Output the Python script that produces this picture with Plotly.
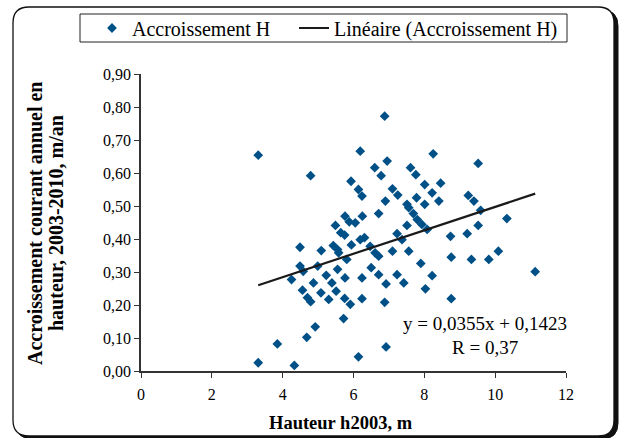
import plotly.graph_objects as go

# Data (Hauteur h2003 in m, Accroissement H in m/an)
hauteur = [3.31, 3.31, 3.85, 4.33, 4.49, 4.49, 4.58, 4.25, 4.56, 4.70,
           4.79, 4.92, 4.68, 4.79, 4.87, 4.99, 5.08, 5.09, 5.23, 5.30,
           5.39, 5.51, 5.43, 5.55, 5.55, 5.76, 5.49, 5.64, 5.75, 5.76,
           5.88, 5.81, 5.75, 5.91, 5.72, 5.94, 5.93, 6.14, 6.24, 6.19,
           6.19, 6.05, 6.14, 6.24, 6.24, 6.25, 6.31, 6.47, 6.61, 6.50,
           6.71, 6.71, 6.71, 6.60, 6.78, 6.88, 6.95, 6.90, 6.92, 6.88,
           6.92, 7.10, 7.25, 7.10, 7.23, 7.37, 7.56, 7.23, 7.42, 7.51,
           7.51, 7.56, 7.69, 7.80, 7.93, 8.08, 7.61, 7.76, 7.78, 8.01,
           8.01, 8.22, 8.41, 8.46, 8.25, 7.90, 8.22, 8.03, 8.74, 8.76,
           8.76, 9.24, 9.40, 9.59, 9.52, 9.52, 9.21, 10.33, 10.09, 9.82,
           9.33, 11.13, 5.58]
accroissement = [0.654, 0.025, 0.082, 0.017, 0.375, 0.318, 0.302, 0.277, 0.245, 0.222,
                 0.210, 0.134, 0.102, 0.592, 0.267, 0.318, 0.237, 0.365, 0.290, 0.217,
                 0.267, 0.242, 0.380, 0.368, 0.308, 0.282, 0.441, 0.419, 0.412, 0.469,
                 0.452, 0.338, 0.220, 0.202, 0.159, 0.382, 0.575, 0.550, 0.530, 0.666,
                 0.398, 0.449, 0.043, 0.282, 0.219, 0.469, 0.404, 0.378, 0.358, 0.313,
                 0.292, 0.348, 0.477, 0.616, 0.592, 0.772, 0.636, 0.515, 0.264, 0.208,
                 0.073, 0.552, 0.533, 0.363, 0.416, 0.398, 0.363, 0.292, 0.267, 0.441,
                 0.505, 0.495, 0.477, 0.459, 0.444, 0.429, 0.616, 0.595, 0.525, 0.565,
                 0.505, 0.540, 0.515, 0.569, 0.658, 0.326, 0.289, 0.249, 0.408, 0.345,
                 0.219, 0.532, 0.515, 0.487, 0.629, 0.441, 0.416, 0.462, 0.363, 0.338,
                 0.338, 0.301, 0.358]

# Linear trend as displayed on the chart
slope = 0.0355
intercept = 0.1423
r_value = 0.37

x_ticks = [0, 2, 4, 6, 8, 10, 12]
y_ticks = [0.0, 0.1, 0.2, 0.3, 0.4, 0.5, 0.6, 0.7, 0.8, 0.9]

series_name = "Accroissement H"
trend_name = "Linéaire (Accroissement H)"
x_title = "Hauteur h2003, m"
y_title_lines = ["Accroissement courant annuel en", "hauteur, 2003-2010, m/an"]

FONT = "Liberation Serif, Times New Roman, serif"
W, H = 622, 438
L, R, T, B = 141, 56, 74, 67
PW, PH = W - L - R, H - T - B


def px_x(p):
    return (p - L) / PW


def px_y(p):
    return (H - B - p) / PH


def fr(v):
    return str(v).replace(".", ",")


x_min, x_max = min(hauteur), max(hauteur)
trend_x = [x_min, x_max]
trend_y = [slope * v + intercept for v in trend_x]

fig = go.Figure()
fig.add_trace(go.Scatter(
    x=hauteur, y=accroissement, mode="markers", name=series_name, legend="legend",
    marker=dict(symbol="diamond", size=7.5, color="#005088", line=dict(width=0)),
))
fig.add_trace(go.Scatter(
    x=trend_x, y=trend_y, mode="lines", name=trend_name, legend="legend2",
    line=dict(color="#1a1a1a", width=2.2),
))


def rounded_rect(x0, y0, x1, y1, r):
    return (f"M {px_x(x0 + r)},{px_y(y0)} L {px_x(x1 - r)},{px_y(y0)} "
            f"Q {px_x(x1)},{px_y(y0)} {px_x(x1)},{px_y(y0 + r)} "
            f"L {px_x(x1)},{px_y(y1 - r)} "
            f"Q {px_x(x1)},{px_y(y1)} {px_x(x1 - r)},{px_y(y1)} "
            f"L {px_x(x0 + r)},{px_y(y1)} "
            f"Q {px_x(x0)},{px_y(y1)} {px_x(x0)},{px_y(y1 - r)} "
            f"L {px_x(x0)},{px_y(y0 + r)} "
            f"Q {px_x(x0)},{px_y(y0)} {px_x(x0 + r)},{px_y(y0)} Z")


shapes = [
    dict(type="path", xref="paper", yref="paper", layer="below",
         path=rounded_rect(16, 10, 618, 439, 16),
         fillcolor="#111", line=dict(color="#111", width=1)),
    dict(type="path", xref="paper", yref="paper", layer="below",
         path=rounded_rect(13, 7, 614, 436, 16),
         fillcolor="white", line=dict(color="#111", width=1.3)),
    # legend frame
    dict(type="rect", xref="paper", yref="paper", layer="below",
         x0=px_x(80), x1=px_x(567), y0=px_y(14), y1=px_y(42),
         fillcolor="white", line=dict(color="#222", width=1)),
]

annotations = [
    dict(xref="paper", yref="paper", x=px_x(35), y=px_y(223), text=f"<b>{y_title_lines[0]}</b>",
         textangle=-90, showarrow=False, xanchor="center", yanchor="middle",
         font=dict(family=FONT, size=20, color="black")),
    dict(xref="paper", yref="paper", x=px_x(56), y=px_y(223), text=f"<b>{y_title_lines[1]}</b>",
         textangle=-90, showarrow=False, xanchor="center", yanchor="middle",
         font=dict(family=FONT, size=20, color="black")),
    dict(xref="paper", yref="paper", x=px_x(341), y=px_y(423), text=f"<b>{x_title}</b>",
         showarrow=False, xanchor="center", yanchor="middle",
         font=dict(family=FONT, size=18.5, color="black")),
    dict(xref="paper", yref="paper", x=px_x(485), y=px_y(323),
         text=f"y = {fr(slope)}x + {fr(intercept)}",
         showarrow=False, xanchor="center", yanchor="middle",
         font=dict(family=FONT, size=19, color="black")),
    dict(xref="paper", yref="paper", x=px_x(485), y=px_y(347),
         text=f"R = {fr(r_value)}",
         showarrow=False, xanchor="center", yanchor="middle",
         font=dict(family=FONT, size=19, color="black")),
]

legend_common = dict(orientation="h", xanchor="left", yanchor="middle",
                     borderwidth=0, bgcolor="rgba(0,0,0,0)",
                     font=dict(family=FONT, size=20, color="black"),
                     itemwidth=30)

fig.update_layout(
    width=W, height=H,
    margin=dict(l=L, r=R, t=T, b=B, autoexpand=False),
    paper_bgcolor="white", plot_bgcolor="rgba(0,0,0,0)",
    separators=", ",
    font=dict(family=FONT, size=16, color="black"),
    shapes=shapes, annotations=annotations,
    showlegend=True,
    legend=dict(x=px_x(92), y=px_y(28), **legend_common),
    legend2=dict(x=px_x(294), y=px_y(28), **legend_common),
)
fig.update_xaxes(range=[0, 12], tickvals=x_ticks, tickformat="d",
                 showgrid=False, zeroline=False, showline=True, linecolor="#333", linewidth=1.5,
                 ticks="outside", ticklen=5, tickcolor="#333", tickwidth=1.2,
                 ticklabelstandoff=3,
                 tickfont=dict(family=FONT, size=16, color="black"))
fig.update_yaxes(range=[0, 0.9], tickvals=y_ticks, tickformat=".2f",
                 showgrid=False, zeroline=False, showline=True, linecolor="#333", linewidth=1.5,
                 ticks="outside", ticklen=5, tickcolor="#333", tickwidth=1.2,
                 tickfont=dict(family=FONT, size=16, color="black"))

fig.write_html("out.html")
